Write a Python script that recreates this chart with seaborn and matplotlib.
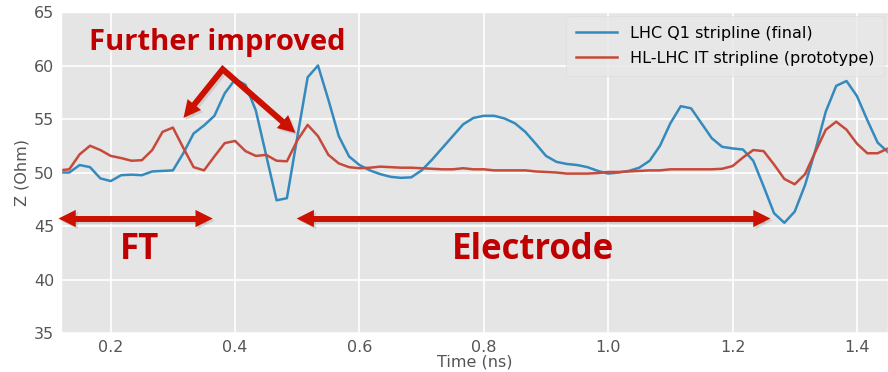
"""Impedance along the stripline: LHC Q1 vs HL-LHC IT prototype."""

import matplotlib

matplotlib.use("Agg")
import matplotlib.pyplot as plt
import matplotlib.patheffects as pe
import numpy as np
import seaborn as sns

time_ns = [
    0.1167, 0.1333, 0.15, 0.1667, 0.1833, 0.2, 0.2167, 0.2333, 0.25, 0.2667,
    0.2833, 0.3, 0.3167, 0.3333, 0.35, 0.3667, 0.3833, 0.4, 0.4167, 0.4333,
    0.45, 0.4667, 0.4833, 0.5, 0.5167, 0.5333, 0.55, 0.5667, 0.5833, 0.6,
    0.6167, 0.6333, 0.65, 0.6667, 0.6833, 0.7, 0.7167, 0.7333, 0.75, 0.7667,
    0.7833, 0.8, 0.8167, 0.8333, 0.85, 0.8667, 0.8833, 0.9, 0.9167, 0.9333,
    0.95, 0.9667, 0.9833, 1.0, 1.0167, 1.0333, 1.05, 1.0667, 1.0833, 1.1,
    1.1167, 1.1333, 1.15, 1.1667, 1.1833, 1.2, 1.2167, 1.2333, 1.25, 1.2667,
    1.2833, 1.3, 1.3167, 1.3333, 1.35, 1.3667, 1.3833, 1.4, 1.4167, 1.4333,
    1.45,
]

lhc_q1 = [
    50.0, 50.0, 50.7, 50.5, 49.45, 49.2, 49.75, 49.8, 49.75, 50.1,
    50.15, 50.2, 51.8, 53.65, 54.4, 55.3, 57.4, 58.7, 58.2, 55.8,
    51.6, 47.4, 47.6, 53.3, 58.9, 60.0, 56.8, 53.4, 51.5, 50.7,
    50.2, 49.85, 49.6, 49.5, 49.55, 50.2, 51.2, 52.3, 53.4, 54.5,
    55.1, 55.3, 55.3, 55.05, 54.6, 53.8, 52.7, 51.55, 51.0, 50.8,
    50.7, 50.5, 50.15, 49.9, 50.0, 50.15, 50.45, 51.1, 52.5, 54.6,
    56.2, 56.0, 54.6, 53.2, 52.4, 52.25, 52.15, 51.1, 48.7, 46.2,
    45.3, 46.35, 48.85, 52.1, 55.7, 58.1, 58.55, 57.15, 54.9, 52.8,
    51.9,
]

hl_lhc_it = [
    50.2, 50.3, 51.7, 52.5, 52.1, 51.55, 51.35, 51.1, 51.15, 52.1,
    53.8, 54.2, 52.3, 50.5, 50.2, 51.5, 52.75, 52.95, 52.0, 51.55,
    51.65, 51.1, 51.05, 53.0, 54.45, 53.4, 51.65, 50.85, 50.5, 50.4,
    50.45, 50.55, 50.5, 50.45, 50.45, 50.4, 50.35, 50.3, 50.3, 50.4,
    50.3, 50.3, 50.2, 50.2, 50.2, 50.2, 50.1, 50.05, 50.0, 49.9,
    49.9, 49.9, 49.95, 50.05, 50.05, 50.1, 50.15, 50.2, 50.2, 50.3,
    50.3, 50.3, 50.3, 50.3, 50.35, 50.6, 51.4, 52.1, 52.0, 50.75,
    49.4, 48.9, 49.85, 51.95, 54.0, 54.75, 54.0, 52.7, 51.8, 51.8,
    52.25,
]

series_labels = ["LHC Q1 stripline (final)", "HL-LHC IT stripline (prototype)"]
series_colors = ["#348ABD", "#C64A3B"]

ARROW_RED = "#CC1100"
TEXT_RED = "#C00000"
BOLD_FONT = ["Open Sans", "DejaVu Sans"]
ONE_HEAD = "-|>,head_length=0.62,head_width=0.31"
TWO_HEADS = "<|-|>,head_length=0.62,head_width=0.31"
PATCH_SHADOW = [pe.SimplePatchShadow(offset=(1.5, -1.5), shadow_rgbFace="#888888", alpha=0.25)]
LINE_SHADOW = [pe.SimpleLineShadow(offset=(1.5, -1.5), shadow_color="#888888", alpha=0.25),
               pe.Normal()]


def _heads(ax, start, end, style):
    # filled heads only (lw=0 hides the stroked shaft); shadow copy underneath
    for zorder, effects in [(3, PATCH_SHADOW), (5, [])]:
        ann = ax.annotate(
            "",
            xy=end,
            xytext=start,
            annotation_clip=False,
            zorder=zorder,
            arrowprops=dict(
                arrowstyle=style,
                facecolor=ARROW_RED,
                edgecolor="none",
                lw=0,
                mutation_scale=20,
                shrinkA=0,
                shrinkB=0,
            ),
        )
        ann.arrow_patch.set_path_effects(effects)


def _shaft(ax, points, back_px=8):
    # one thick line, pulled back from both tips so it hides under the heads
    disp = ax.transData.transform(np.asarray(points, dtype=float))
    for i, j in [(0, 1), (-1, -2)]:
        step = disp[j] - disp[i]
        disp[i] = disp[i] + step / np.hypot(*step) * back_px
    xs, ys = ax.transData.inverted().transform(disp).T
    ax.plot(xs, ys, color=ARROW_RED, lw=4.3, solid_capstyle="butt",
            solid_joinstyle="miter", zorder=4, clip_on=False,
            label="_nolegend_", path_effects=LINE_SHADOW)


plt.style.use("ggplot")
fig = plt.figure(figsize=(8.88, 3.72), dpi=100)
ax = fig.add_axes([0.0687, 0.1048, 0.9313, 0.8629])

for values, label, color in zip([lhc_q1, hl_lhc_it], series_labels, series_colors):
    sns.lineplot(x=time_ns, y=values, ax=ax, label=label, color=color, linewidth=1.8)

ax.set_xlim(0.12, 1.45)
ax.set_ylim(35, 65)
ax.set_xticks([0.2, 0.4, 0.6, 0.8, 1.0, 1.2, 1.4])
ax.set_yticks([35, 40, 45, 50, 55, 60, 65])
ax.tick_params(labelsize=11.5, colors="#555555", length=0, pad=5)
ax.set_xlabel("Time (ns)", fontsize=11.5, color="#555555", labelpad=0)
ax.set_ylabel("Z (Ohm)", fontsize=11.5, color="#555555", labelpad=3)
ax.grid(True, color="white", linewidth=1.2)

legend = ax.legend(loc="upper right", fontsize=11.5, frameon=True,
                   borderaxespad=0.25, borderpad=0.6, labelspacing=0.65,
                   handlelength=2.6)
legend.get_frame().set_facecolor("#E8E8E8")
legend.get_frame().set_edgecolor("#DDDDDD")

# annotations
ax.text(0.372, 62.15, "Further improved", ha="center", va="center",
        fontsize=21, fontweight="bold", color=TEXT_RED, family=BOLD_FONT)
ax.text(0.2466, 42.8, "FT", ha="center", va="center",
        fontsize=25, fontweight="bold", color=TEXT_RED, family=BOLD_FONT)
ax.text(0.879, 42.8, "Electrode", ha="center", va="center",
        fontsize=25, fontweight="bold", color=TEXT_RED, family=BOLD_FONT)

apex = (0.38, 59.65)
left_tip = (0.317, 55.1)
right_tip = (0.497, 53.7)
_shaft(ax, [left_tip, apex, right_tip])
_heads(ax, apex, left_tip, ONE_HEAD)
_heads(ax, apex, right_tip, ONE_HEAD)

for x0, x1 in [(0.116, 0.364), (0.499, 1.261)]:
    _shaft(ax, [(x0, 45.7), (x1, 45.7)])
    _heads(ax, (x0, 45.7), (x1, 45.7), TWO_HEADS)

fig.savefig("out.png", dpi=100)
plt.close(fig)
